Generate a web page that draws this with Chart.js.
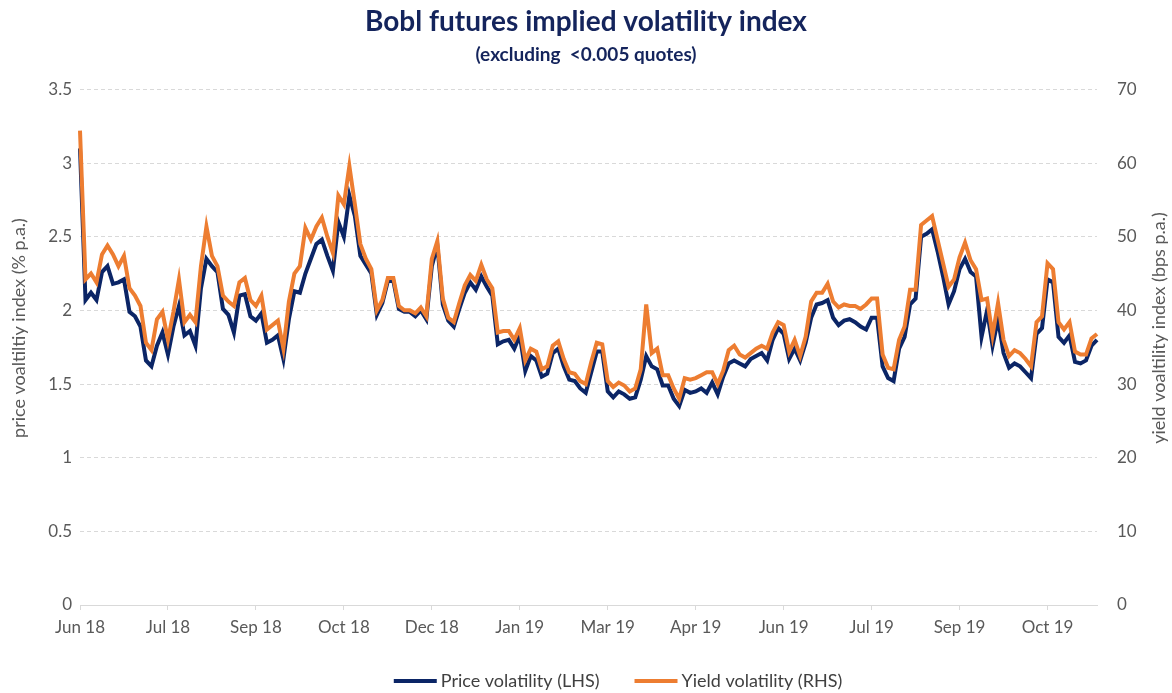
<!DOCTYPE html>
<html>
<head>
<meta charset="utf-8">
<script src="https://cdn.jsdelivr.net/npm/chart.js@4.4.1/dist/chart.umd.min.js"></script>
<style>
  html, body { margin: 0; padding: 0; background: #fff; }
  #wrap { width: 1172px; height: 693px; position: relative; }
</style>
</head>
<body>
<div id="wrap"><canvas id="chart"></canvas></div>
<script>
// x-axis labels, one every 16 observations
const tickLabels = ['Jun 18','Jul 18','Sep 18','Oct 18','Dec 18','Jan 19','Mar 19','Apr 19','Jun 19','Jul 19','Sep 19','Oct 19'];
const pointsPerLabel = 16;

// price volatility, % p.a. (LHS)
const priceVol = [
  3.10,2.07,2.12,2.07,2.26,2.30,2.18,2.19,2.21,1.99,1.96,1.89,1.66,1.62,1.76,1.85,
  1.70,1.89,2.03,1.83,1.86,1.76,2.15,2.35,2.30,2.26,2.01,1.97,1.85,2.10,2.11,1.96,
  1.93,1.98,1.78,1.80,1.83,1.67,1.94,2.13,2.12,2.25,2.35,2.45,2.48,2.37,2.27,2.60,
  2.50,2.78,2.64,2.37,2.31,2.25,1.97,2.05,2.20,2.20,2.01,1.99,1.99,1.96,2.00,1.94,
  2.30,2.44,2.04,1.93,1.89,2.01,2.12,2.19,2.14,2.23,2.16,2.10,1.77,1.79,1.80,1.74,
  1.83,1.59,1.69,1.66,1.55,1.57,1.71,1.74,1.62,1.53,1.52,1.47,1.44,1.58,1.72,1.72,
  1.45,1.41,1.45,1.43,1.40,1.41,1.53,1.69,1.62,1.60,1.49,1.49,1.40,1.35,1.46,1.44,
  1.45,1.47,1.44,1.51,1.43,1.55,1.64,1.66,1.64,1.62,1.67,1.69,1.71,1.66,1.80,1.88,
  1.84,1.67,1.74,1.66,1.78,1.95,2.04,2.05,2.07,1.95,1.90,1.93,1.94,1.92,1.89,1.87,
  1.95,1.95,1.62,1.54,1.52,1.74,1.82,2.04,2.08,2.50,2.52,2.55,2.40,2.23,2.04,2.13,
  2.28,2.35,2.26,2.23,1.82,2.00,1.76,1.94,1.71,1.61,1.64,1.62,1.58,1.54,1.84,1.88,
  2.21,2.19,1.82,1.78,1.83,1.65,1.64,1.66,1.76,1.80
];

// yield volatility, bps p.a. (RHS)
const yieldVol = [
  64.4,44.2,45.0,43.8,47.6,48.8,47.6,46.0,47.4,43.0,42.0,40.6,35.6,34.6,38.8,39.8,
  36.0,39.8,44.2,38.4,39.4,38.4,46.0,51.4,47.4,46.0,42.0,41.2,40.6,43.8,44.4,41.4,
  40.6,42.0,37.4,38.0,38.6,34.8,41.2,45.0,46.0,51.2,49.6,51.4,52.6,50.0,47.8,55.6,
  54.4,59.6,54.4,49.0,47.0,45.6,40.0,41.4,44.4,44.4,40.6,40.0,40.0,39.6,40.4,39.2,
  47.0,49.4,41.6,39.0,38.4,41.0,43.4,44.8,44.0,46.2,44.2,43.0,37.0,37.2,37.2,36.0,
  37.6,33.2,34.8,34.4,32.0,32.4,35.2,35.8,33.4,31.6,31.4,30.4,30.0,33.0,35.6,35.4,
  30.4,29.6,30.2,29.8,29.0,29.4,32.0,40.8,34.2,34.8,31.2,31.2,29.4,28.0,30.8,30.6,
  30.8,31.2,31.6,31.6,30.0,31.8,34.6,35.2,34.0,33.6,34.2,34.8,35.2,34.8,37.0,38.4,
  38.0,34.4,36.0,33.8,36.4,41.2,42.4,42.4,43.6,41.2,40.4,40.8,40.6,40.6,40.2,40.8,
  41.6,41.6,34.0,32.2,32.0,36.0,37.8,42.8,42.8,51.6,52.2,52.8,49.6,46.4,43.2,44.2,
  47.2,49.2,46.8,45.6,41.4,41.6,36.6,41.0,36.0,33.8,34.6,34.2,33.4,32.4,38.4,39.2,
  46.4,45.6,38.4,37.4,38.4,34.4,34.0,34.0,36.2,36.8
];

const categories = priceVol.map((_, i) =>
  i % pointsPerLabel === 0 ? (tickLabels[i / pointsPerLabel] || '') : '');

const NAVY = '#0b2566';
const ORANGE = '#ed7d31';
const GREY = '#595959';
const FONT = 'Lato, "Open Sans", sans-serif';

// rotated axis titles (both read bottom-to-top) and the bottom legend
const decorations = {
  id: 'decorations',
  afterDraw(chart) {
    const { ctx } = chart;
    const midY = 328;
    ctx.save();
    ctx.fillStyle = GREY;
    ctx.font = '18px ' + FONT;
    ctx.textAlign = 'center';
    ctx.textBaseline = 'middle';
    [[19, 'price voaltiltiy index (% p.a.)'], [1159, 'yield voaltility index (bps p.a.)']].forEach(([x, t]) => {
      ctx.save();
      ctx.translate(x, midY);
      ctx.rotate(-Math.PI / 2);
      ctx.fillText(t, 0, 0);
      ctx.restore();
    });

    // legend
    ctx.font = '18px ' + FONT;
    ctx.fillStyle = '#404040';
    ctx.textAlign = 'left';
    const lineW = 43, gap = 4, itemGap = 35, y = 681;
    const items = chart.data.datasets.map(d => ({ label: d.label, color: d.borderColor, w: lineW + gap + ctx.measureText(d.label).width }));
    const total = items.reduce((s, it) => s + it.w, 0) + itemGap * (items.length - 1);
    let x = 618 - total / 2;
    items.forEach(it => {
      ctx.strokeStyle = it.color;
      ctx.lineWidth = 4;
      ctx.beginPath();
      ctx.moveTo(x, y);
      ctx.lineTo(x + lineW, y);
      ctx.stroke();
      ctx.fillText(it.label, x + lineW + gap, y);
      x += it.w + itemGap;
    });
    ctx.restore();
  }
};

new Chart(document.getElementById('chart'), {
  type: 'line',
  data: {
    labels: categories,
    datasets: [
      { label: 'Price volatility (LHS)', data: priceVol, yAxisID: 'y', borderColor: NAVY, backgroundColor: NAVY, borderWidth: 4, pointRadius: 0, tension: 0, order: 2 },
      { label: 'Yield volatility (RHS)', data: yieldVol, yAxisID: 'y1', borderColor: ORANGE, backgroundColor: ORANGE, borderWidth: 4, pointRadius: 0, tension: 0, order: 1 },
    ],
  },
  options: {
    responsive: true,
    maintainAspectRatio: false,
    animation: false,
    layout: { padding: 0 },
    plugins: {
      legend: { display: false },
      tooltip: { enabled: false },
      title: {
        display: true,
        text: 'Bobl futures implied volatility index',
        color: '#14245c',
        font: { family: FONT, size: 28, weight: 'bold' },
        padding: { top: 5, bottom: 0 },
      },
      subtitle: {
        display: true,
        text: '(excluding  <0.005 quotes)',
        color: '#14245c',
        font: { family: FONT, size: 19, weight: 'bold' },
        padding: { top: 5, bottom: 23 },
      },
    },
    scales: {
      x: {
        afterFit: s => { s.height = 88; },
        grid: {
          drawOnChartArea: false,
          tickLength: 5,
          color: c => (c.index % pointsPerLabel === 0 && c.index < categories.length - 1) ? '#d9d9d9' : 'rgba(0,0,0,0)',
        },
        border: { display: true, color: '#d9d9d9', width: 1 },
        ticks: { autoSkip: false, maxRotation: 0, padding: 7, color: GREY, font: { family: FONT, size: 17 } },
      },
      y: {
        position: 'left',
        min: 0, max: 3.5,
        afterFit: s => { s.width = 80; },
        grid: { color: '#d9d9d9', drawTicks: false },
        border: { display: false, dash: [4, 3] },
        ticks: { stepSize: 0.5, padding: 8, color: GREY, font: { family: FONT, size: 17 }, callback: v => String(v) },
      },
      y1: {
        position: 'right',
        min: 0, max: 70,
        afterFit: s => { s.width = 75; },
        grid: { display: false, drawTicks: false },
        border: { display: false },
        ticks: { stepSize: 10, padding: 20, color: GREY, font: { family: FONT, size: 17 } },
      },
    },
  },
  plugins: [decorations],
});
</script>
</body>
</html>
